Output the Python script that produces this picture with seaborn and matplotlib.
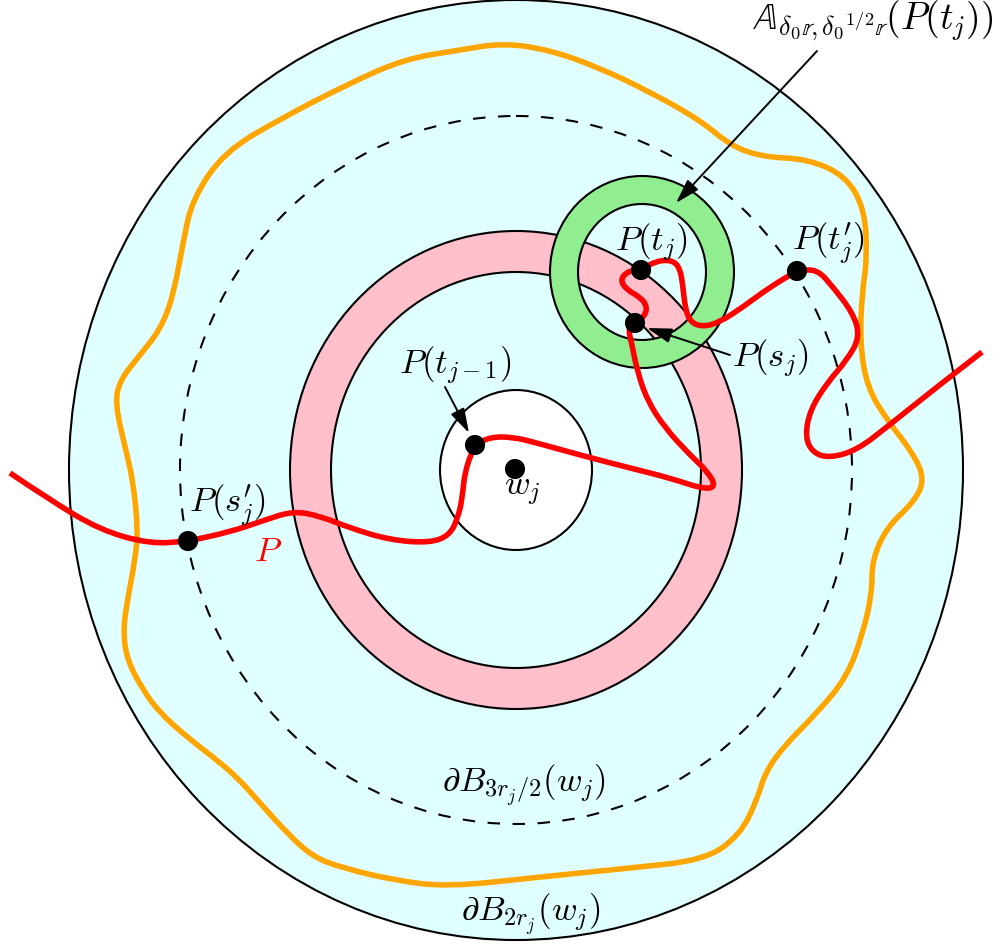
import matplotlib
matplotlib.use("Agg")
import matplotlib.pyplot as plt
from matplotlib.patches import Ellipse, Annulus, PathPatch
from matplotlib.path import Path
import seaborn as sns

sns.set_style("white")
plt.rcParams["mathtext.fontset"] = "cm"
plt.rcParams["font.family"] = ["DejaVu Serif"]

# ---------------- data (pixel coordinates of the reference picture) ----------------
center_w = (516, 470)

# orange closed wavy loop (control points)
orange_x = [404, 460, 503, 550, 600, 650, 700, 731, 763, 808, 846, 865, 867, 862, 860, 867, 887, 913, 925,
            913, 887, 872, 872, 863, 847, 817, 783, 765, 757, 740, 705, 630, 540, 447, 393, 343, 313, 287,
            260, 237, 213, 187, 160, 143, 127, 123, 128, 135, 138, 133, 125, 115, 120, 140, 160, 173, 183,
            192, 224, 282, 346]
orange_y = [59, 50, 43, 50, 68, 92, 120, 146, 157, 159, 176, 210, 260, 293, 343, 387, 420, 453, 480,
            503, 527, 560, 593, 633, 677, 713, 747, 773, 800, 835, 860, 868, 877, 887, 880, 868, 857, 833,
            803, 777, 757, 737, 713, 690, 660, 630, 597, 560, 530, 480, 447, 403, 380, 355, 330, 297, 243,
            200, 152, 118, 85]

# red path P (control points; marked points are repeated so the curve passes through them)
red_x = [10, 50, 100, 150, 188, 188, 230, 265, 293, 320, 350, 390, 430, 450, 458, 462, 465, 475, 475, 490,
         513, 537, 580, 630, 670, 703, 716, 708, 690, 665, 647, 637, 632, 628, 635, 635, 645, 647, 640, 627,
         620, 628, 641, 641, 656, 672, 680, 683, 685, 690, 703, 720, 743, 770, 797, 797, 817, 833, 853, 860,
         847, 827, 810, 805, 813, 830, 857, 887, 933, 982]
red_y = [473, 500, 530, 544, 541, 541, 532, 520, 511, 516, 528, 540, 543, 535, 517, 500, 470, 445, 445, 437,
         437, 443, 455, 468, 478, 489, 487, 472, 455, 428, 400, 370, 345, 328, 323, 323, 316, 306, 297, 290,
         280, 271, 270, 270, 261, 260, 268, 287, 307, 322, 327, 322, 307, 287, 271, 271, 269, 287, 313, 337,
         360, 383, 410, 437, 453, 458, 450, 427, 390, 352]

# marked points
dot_names = ["P(s'_j)", "P(t_{j-1})", "w_j", "P(s_j)", "P(t_j)", "P(t'_j)"]
dot_x = [188, 475, 515, 635, 641, 797]
dot_y = [541, 445, 469, 323, 270, 271]

# labels
label_texts = [r"$\mathbb{A}_{\delta_0\mathbb{r},\delta_0{}^{1/2}\mathbb{r}}(P(t_j))$",
               r"$P(t_j)$", r"$P(t_j^{\prime})$", r"$P(s_j)$", r"$P(t_{j-1})$", r"$w_j$",
               r"$P(s_j^{\prime})$", r"$\partial B_{3r_j/2}(w_j)$", r"$\partial B_{2r_j}(w_j)$"]
label_x = [873, 651, 828, 770, 455, 522, 227, 524, 531]
label_y = [21, 243, 243, 359, 366, 491, 505, 785, 914]
label_size = [27, 25, 25, 25, 25, 25, 25, 25, 25]

# arrows: (start) -> (tip)
arrow_start = [(817, 51), (445, 387), (730, 355)]
arrow_tip = [(676, 203), (469, 433), (647, 328)]


def spline_path(xs, ys, closed):
    """Quadratic B-spline path through the control polygon (rendered by matplotlib)."""
    p = list(zip(xs, ys))
    n = len(p)
    mid = lambda a, b: ((a[0] + b[0]) / 2, (a[1] + b[1]) / 2)
    if closed:
        verts = [mid(p[-1], p[0])]
        codes = [Path.MOVETO]
        for i in range(n):
            verts += [p[i], mid(p[i], p[(i + 1) % n])]
            codes += [Path.CURVE3, Path.CURVE3]
    else:
        verts = [p[0]]
        codes = [Path.MOVETO]
        for i in range(1, n - 1):
            end = p[n - 1] if i == n - 2 else mid(p[i], p[i + 1])
            verts += [p[i], end]
            codes += [Path.CURVE3, Path.CURVE3]
    return Path(verts, codes)


# ---------------- figure ----------------
fig = plt.figure(figsize=(10, 9.47), dpi=100)
ax = fig.add_axes([0, 0, 1, 1])
ax.set_xlim(0, 1000)
ax.set_ylim(947, 0)
ax.axis("off")

# big disk B_{2r}
ax.add_patch(Ellipse(center_w, 2 * 447, 2 * 470, fc="#e0ffff", ec="black", lw=1.5, zorder=1))

# orange loop
ax.add_patch(PathPatch(spline_path(orange_x, orange_y, True), fc="none", ec="orange", lw=4,
                       joinstyle="round", zorder=2))

# dashed circle
ax.add_patch(Ellipse(center_w, 2 * 336, 2 * 354, fc="none", ec="black", lw=1.5,
                     ls=(0, (6, 6)), zorder=3))

# pink annulus
ax.add_patch(Annulus(center_w, (226, 239), 41, fc="pink", ec="black", lw=1.5, zorder=4))

# white small disk
ax.add_patch(Ellipse(center_w, 2 * 76, 2 * 80, fc="white", ec="black", lw=1.5, zorder=5))

# green annulus
ax.add_patch(Annulus((642, 272), (92, 96), 28, fc="lightgreen", ec="black", lw=1.5, zorder=6))

# red path
ax.add_patch(PathPatch(spline_path(red_x, red_y, False), fc="none", ec="red", lw=4,
                       joinstyle="round", capstyle="butt", zorder=7))

# dots
sns.scatterplot(x=dot_x, y=dot_y, color="black", s=210, edgecolor="none", ax=ax, zorder=9, legend=False)

# arrows
for s, t in zip(arrow_start, arrow_tip):
    ax.annotate("", xy=t, xytext=s, zorder=8,
                arrowprops=dict(arrowstyle="-|>,head_length=1.0,head_width=0.3", color="black", lw=1.4,
                                shrinkA=0, shrinkB=0, mutation_scale=15))

# labels
for txt, x, y, fs in zip(label_texts, label_x, label_y, label_size):
    ax.text(x, y, txt, ha="center", va="center", fontsize=fs, color="black", zorder=10)
ax.text(268, 551, r"$P$", ha="center", va="center", fontsize=25, color="red", zorder=10)

fig.savefig("out.png", dpi=100)
